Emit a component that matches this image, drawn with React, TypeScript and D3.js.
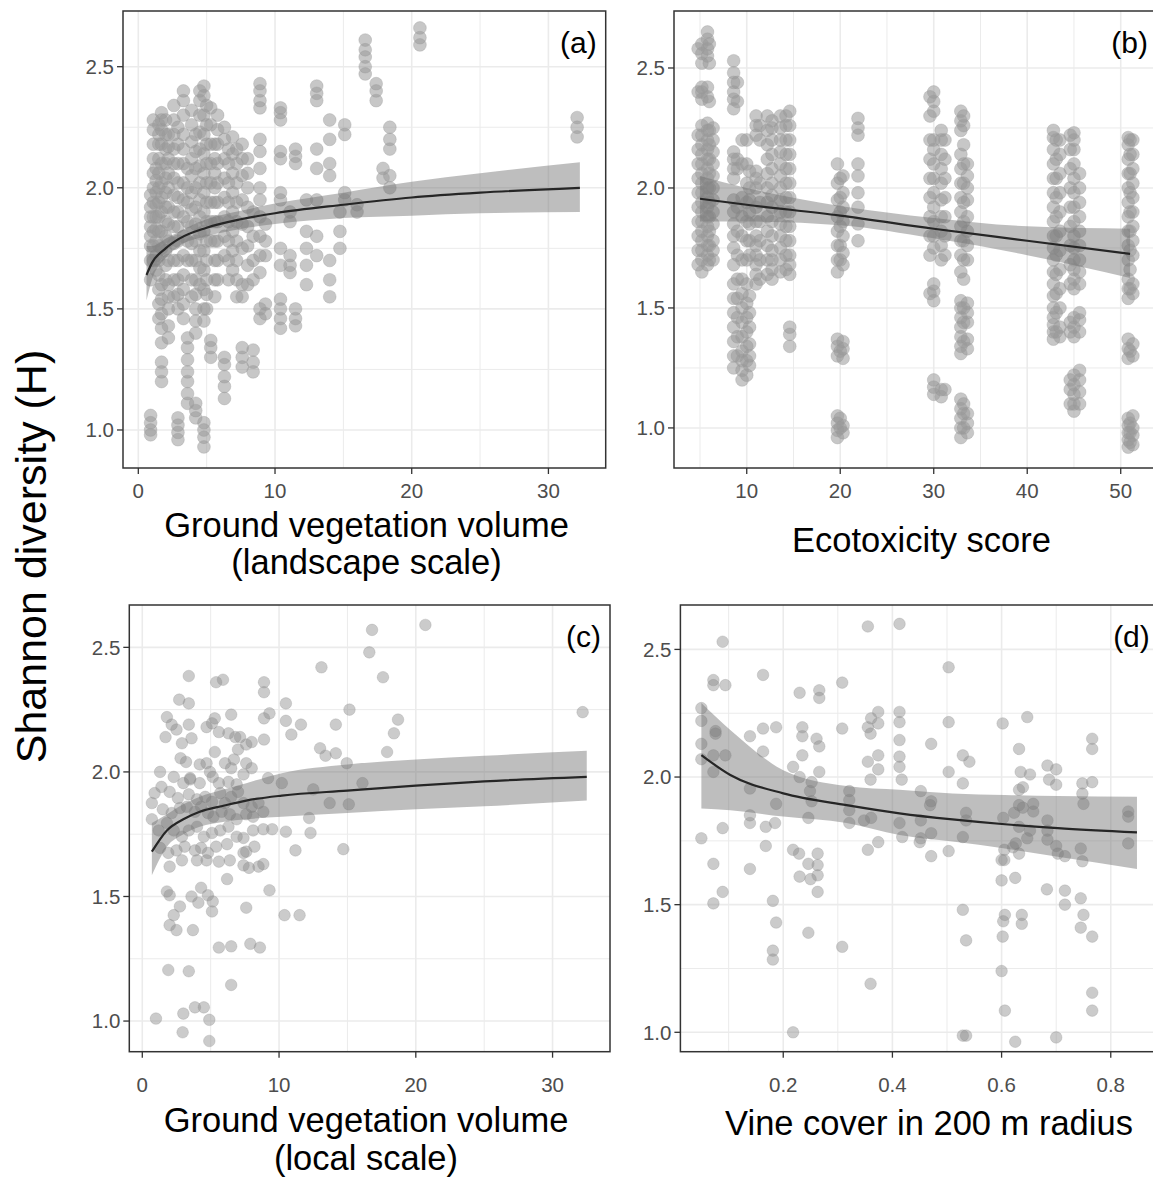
import React from "react";
import * as d3 from "d3";

// Shannon diversity vs four predictors, 2x2 ggplot-style panels

const W = 1153;
const H = 1178;
const FONT = "'Liberation Sans', Arial, sans-serif";

// ---- panel (a): ground vegetation volume, landscape scale (columns of samples per site)
const aX = [0.9, 1.1, 1.3, 1.5, 1.7, 2.0, 2.2, 2.6, 2.9, 3.3, 3.6, 3.9, 4.2, 4.5, 4.8, 5.0, 5.3, 5.6, 5.8, 6.3, 6.6, 6.9, 7.2, 7.6, 8.0, 8.4, 8.9, 9.3, 10.4, 11.1, 11.5, 12.3, 13.05, 14.0, 14.75, 15.1, 16.0, 16.6, 17.4, 17.9, 18.4, 20.6, 32.1];
const aY = [
  [0.98, 1.0, 1.03, 1.06, 1.62, 1.7, 1.76, 1.8, 1.84, 1.88, 1.92, 1.97],
  [1.7, 1.76, 1.82, 1.88, 1.94, 2.0, 2.06, 2.12, 2.18, 2.24, 2.28],
  [1.66, 1.72, 1.78, 1.83, 1.88, 1.93, 1.98, 2.03, 2.08],
  [1.46, 1.52, 1.58, 1.64, 1.7, 1.76, 1.82, 1.88, 1.94, 2.0, 2.06, 2.12, 2.18, 2.22, 2.26],
  [1.2, 1.24, 1.28, 1.36, 1.42, 1.48, 1.54, 1.6, 1.75, 1.82, 1.9, 1.96, 2.02, 2.1, 2.18, 2.24, 2.28, 2.31],
  [1.62, 1.68, 1.74, 1.8, 1.86, 1.92, 1.98, 2.04, 2.1, 2.16, 2.22, 2.28],
  [1.38, 1.43, 1.5, 1.55, 1.6, 1.7, 1.78, 1.85, 1.92, 2.0, 2.06, 2.12, 2.17, 2.22],
  [1.55, 1.62, 1.7, 1.77, 1.84, 1.9, 1.97, 2.04, 2.1, 2.16, 2.22, 2.28, 2.34],
  [0.96, 0.99, 1.02, 1.05, 1.5, 1.56, 1.62, 1.7, 1.78, 1.84, 1.9, 1.96, 2.02, 2.1, 2.18, 2.25],
  [1.46, 1.52, 1.58, 1.64, 1.72, 1.8, 1.88, 1.95, 2.02, 2.1, 2.16, 2.22, 2.3, 2.36, 2.4],
  [1.11, 1.15, 1.2, 1.24, 1.29, 1.34, 1.38, 1.7, 1.78, 1.86, 1.94, 2.0, 2.08],
  [1.55, 1.62, 1.7, 1.77, 1.84, 1.91, 1.98, 2.05, 2.12, 2.19, 2.26, 2.32],
  [1.05, 1.08, 1.11, 1.4, 1.45, 1.5, 1.56, 1.62, 1.7, 1.78, 1.85, 1.92, 2.0, 2.08, 2.15, 2.22],
  [1.6, 1.67, 1.74, 1.81, 1.88, 1.95, 2.02, 2.09, 2.16, 2.23, 2.3, 2.36, 2.4],
  [0.93, 0.97, 1.0, 1.03, 1.45, 1.5, 1.58, 1.66, 1.74, 1.82, 1.9, 1.98, 2.06, 2.14, 2.22, 2.3, 2.38, 2.42],
  [1.5, 1.56, 1.62, 1.7, 1.78, 1.86, 1.94, 2.02, 2.1, 2.18, 2.26, 2.34],
  [1.3, 1.34, 1.37, 1.78, 1.86, 1.94, 2.02, 2.1, 2.18, 2.26, 2.33],
  [1.55, 1.62, 1.7, 1.78, 1.86, 1.94, 2.0, 2.06, 2.12, 2.18],
  [1.62, 1.7, 1.78, 1.86, 1.94, 2.02, 2.1, 2.18, 2.24, 2.3],
  [1.13, 1.18, 1.22, 1.27, 1.3, 1.72, 1.8, 1.88, 1.96, 2.04, 2.12, 2.2, 2.25],
  [1.62, 1.7, 1.78, 1.86, 1.94, 2.02, 2.1, 2.16],
  [1.66, 1.74, 1.82, 1.9, 1.98, 2.06, 2.14, 2.21],
  [1.55, 1.62, 1.7, 1.78, 1.86, 1.94, 2.02, 2.1, 2.16],
  [1.26, 1.3, 1.34, 1.55, 1.6, 1.75, 1.85, 1.95, 2.05, 2.12, 2.18],
  [1.6, 1.68, 1.76, 1.84, 1.92, 2.0, 2.06, 2.12],
  [1.24, 1.28, 1.33, 1.62, 1.7, 1.8, 1.9],
  [1.46, 1.5, 1.65, 1.72, 1.8, 1.88, 1.95, 2.0, 2.08, 2.15, 2.2, 2.33, 2.36, 2.4, 2.43],
  [1.48, 1.52, 1.72, 1.78, 1.85],
  [1.42, 1.46, 1.5, 1.54, 1.68, 1.75, 1.95, 1.98, 2.12, 2.15, 2.28, 2.31, 2.33],
  [1.65, 1.68, 1.72, 1.86, 1.9],
  [1.43, 1.46, 1.5, 2.1, 2.13, 2.16],
  [1.6, 1.68, 1.75, 1.82, 1.95],
  [1.72, 1.8, 1.95, 2.08, 2.16, 2.36, 2.39, 2.42],
  [1.55, 1.62, 1.7, 2.05, 2.1, 2.2, 2.28],
  [1.75, 1.82, 1.9],
  [1.95, 1.98, 2.22, 2.26],
  [1.9, 1.93],
  [2.47, 2.5, 2.54, 2.57, 2.61],
  [2.36, 2.4, 2.43],
  [2.04, 2.08],
  [2.0, 2.05, 2.16, 2.2, 2.25],
  [2.59, 2.62, 2.66],
  [2.21, 2.25, 2.29],
];
const aFitX = [0.6, 1, 2, 3, 5, 7.5, 10, 15, 20, 25, 32.3];
const aFit = [1.64, 1.69, 1.75, 1.79, 1.835, 1.87, 1.895, 1.93, 1.96, 1.98, 2.0];
const aLo = [1.535, 1.62, 1.71, 1.76, 1.8, 1.83, 1.85, 1.875, 1.885, 1.895, 1.9];
const aHi = [1.76, 1.76, 1.79, 1.82, 1.87, 1.905, 1.935, 1.98, 2.025, 2.06, 2.105];

// ---- panel (b): ecotoxicity score
const bX = [4.8, 5.2, 5.8, 6.0, 6.4, 8.6, 9.0, 9.5, 10.0, 10.3, 11.0, 11.4, 12.2, 12.7, 13.6, 14.2, 14.6, 19.7, 20.0, 20.3, 21.9, 29.6, 30.0, 30.8, 31.2, 32.9, 33.2, 33.6, 42.8, 43.1, 43.5, 44.6, 45.0, 45.6, 50.8, 51.0, 51.3];
const bY = [
  [1.68, 1.74, 1.8, 1.86, 1.92, 1.98, 2.04, 2.1, 2.16, 2.22, 2.4, 2.58],
  [1.65, 1.7, 1.74, 1.78, 1.82, 1.86, 1.9, 1.94, 1.98, 2.02, 2.06, 2.1, 2.14, 2.18, 2.22, 2.26, 2.37, 2.4, 2.42, 2.52, 2.56, 2.6],
  [1.68, 1.72, 1.76, 1.8, 1.84, 1.88, 1.92, 1.96, 2.0, 2.04, 2.08, 2.12, 2.16, 2.2, 2.24, 2.27, 2.38, 2.42, 2.55, 2.58, 2.62, 2.65],
  [1.7, 1.76, 1.82, 1.88, 1.94, 2.0, 2.06, 2.12, 2.18, 2.24, 2.36, 2.52, 2.6],
  [1.7, 1.74, 1.78, 1.85, 1.9, 1.95, 2.0, 2.05, 2.1, 2.15, 2.2, 2.25],
  [1.25, 1.3, 1.36, 1.42, 1.48, 1.54, 1.6, 1.68, 1.75, 1.8, 1.85, 1.9, 1.95, 2.04, 2.08, 2.12, 2.15, 2.33, 2.37, 2.4, 2.44, 2.48, 2.53],
  [1.3, 1.38, 1.46, 1.54, 1.62, 1.72, 1.82, 1.92, 2.08, 2.12, 2.36, 2.44],
  [1.2, 1.24, 1.28, 1.32, 1.38, 1.44, 1.5, 1.56, 1.62, 1.7, 1.8, 1.88, 1.96, 2.1, 2.2],
  [1.22, 1.28, 1.34, 1.4, 1.46, 1.52, 1.6, 1.7, 1.78, 1.86, 1.94, 2.02, 2.1, 2.2],
  [1.26, 1.3, 1.35, 1.42, 1.48, 1.55, 1.72, 1.78, 1.85, 1.9, 1.95, 2.0, 2.07],
  [1.6, 1.64, 1.68, 1.72, 1.76, 1.8, 1.86, 1.92, 2.0, 2.04, 2.07, 2.22, 2.26, 2.3],
  [1.62, 1.7, 1.78, 1.86, 1.94, 2.02, 2.2, 2.26],
  [1.64, 1.7, 1.76, 1.82, 1.88, 1.94, 2.0, 2.06, 2.12, 2.18, 2.24, 2.3],
  [1.62, 1.66, 1.7, 1.74, 1.8, 1.86, 1.92, 1.97, 2.02, 2.08, 2.14, 2.2, 2.25, 2.28],
  [1.65, 1.7, 1.75, 1.8, 1.85, 1.9, 1.95, 2.0, 2.05, 2.1, 2.15, 2.2, 2.25, 2.3],
  [1.66, 1.72, 1.78, 1.84, 1.9, 1.96, 2.02, 2.08, 2.14, 2.2, 2.26, 2.3],
  [1.34, 1.39, 1.42, 1.64, 1.68, 1.72, 1.78, 1.84, 1.9, 1.96, 2.02, 2.08, 2.14, 2.2, 2.26, 2.32],
  [0.96, 0.99, 1.02, 1.05, 1.3, 1.34, 1.37, 1.65, 1.7, 1.76, 1.82, 1.88, 1.95, 2.02, 2.1],
  [1.0, 1.04, 1.32, 1.7, 1.76, 1.84, 1.9, 1.96, 2.04],
  [0.98, 1.01, 1.29, 1.33, 1.36, 1.68, 1.73, 1.8, 1.86, 1.92, 1.98, 2.05],
  [1.78, 1.85, 1.92, 1.98, 2.05, 2.1, 2.22, 2.25, 2.29],
  [1.56, 1.72, 1.8, 1.88, 1.96, 2.04, 2.12, 2.2, 2.3, 2.38],
  [1.14, 1.17, 1.2, 1.53, 1.57, 1.6, 1.75, 1.8, 1.86, 1.92, 1.98, 2.04, 2.1, 2.16, 2.2, 2.32, 2.36, 2.4],
  [1.13, 1.16, 1.7, 1.76, 1.82, 1.88, 1.95, 2.02, 2.08, 2.14, 2.2, 2.24],
  [1.16, 1.72, 1.8, 1.88, 1.96, 2.04, 2.12, 2.2],
  [0.96, 1.0, 1.04, 1.08, 1.12, 1.31, 1.34, 1.38, 1.42, 1.46, 1.5, 1.53, 1.65, 1.72, 1.78, 1.84, 1.9, 1.96, 2.02, 2.08, 2.14, 2.24, 2.28, 2.32],
  [1.0, 1.06, 1.1, 1.36, 1.44, 1.5, 1.62, 1.7, 1.78, 1.86, 1.94, 2.02, 2.1, 2.18, 2.26, 2.3],
  [0.98, 1.02, 1.06, 1.33, 1.37, 1.44, 1.48, 1.52, 1.7, 1.76, 1.82, 1.88, 1.95, 2.0, 2.05, 2.1],
  [1.37, 1.4, 1.43, 1.46, 1.5, 1.55, 1.6, 1.65, 1.7, 1.75, 1.8, 1.86, 1.92, 1.98, 2.04, 2.1, 2.16, 2.21, 2.24],
  [1.4, 1.48, 1.56, 1.64, 1.72, 1.8, 1.88, 1.96, 2.04, 2.12, 2.2],
  [1.38, 1.42, 1.5, 1.58, 1.66, 1.74, 1.82, 1.9, 1.98, 2.06, 2.14, 2.2],
  [1.1, 1.16, 1.2, 1.4, 1.44, 1.6, 1.68, 1.76, 1.84, 1.92, 2.0, 2.08, 2.16, 2.22],
  [1.07, 1.1, 1.14, 1.18, 1.22, 1.38, 1.42, 1.46, 1.58, 1.62, 1.66, 1.7, 1.75, 1.8, 1.86, 1.92, 1.98, 2.04, 2.1, 2.16, 2.2, 2.23],
  [1.1, 1.15, 1.2, 1.24, 1.4, 1.45, 1.48, 1.6, 1.65, 1.7, 1.76, 1.82, 1.88, 1.94, 2.0, 2.06],
  [0.92, 0.95, 0.98, 1.01, 1.04, 1.29, 1.33, 1.37, 1.54, 1.58, 1.62, 1.7, 1.76, 1.82, 1.88, 1.94, 2.0, 2.06, 2.12, 2.18, 2.21],
  [0.94, 0.98, 1.02, 1.32, 1.58, 1.66, 1.74, 1.82, 1.9, 1.98, 2.06, 2.14, 2.2],
  [0.93, 0.97, 1.0, 1.05, 1.3, 1.35, 1.56, 1.6, 1.72, 1.78, 1.84, 1.9, 1.96, 2.02, 2.08, 2.14, 2.2],
];
const bFitX = [5, 10, 20, 30, 40, 51];
const bFit = [1.955, 1.93, 1.885, 1.83, 1.78, 1.725];
const bLo = [1.86, 1.86, 1.845, 1.79, 1.72, 1.625];
const bHi = [2.05, 2.0, 1.925, 1.875, 1.84, 1.83];

// ---- panel (c): ground vegetation volume, local scale
const cX = [20.7, 16.8, 16.6, 17.6, 13.1, 32.2, 18.7, 18.4, 17.9, 15.15, 14.15, 10.5, 10.5, 10.9, 11.6, 8.9, 8.9, 8.9, 9.3, 8.9,
  3.4, 5.4, 5.9, 2.7, 3.4, 1.8, 1.7, 2.15, 2.5, 3.4, 3.6, 4.7, 5.1, 5.3, 5.6, 6.5, 6.3, 6.8, 7.15, 7.6,
  8.0, 13.0, 13.4, 14.15, 14.95, 2.9, 2.8, 3.2, 3.5, 4.2, 4.7, 4.95, 5.3, 6.05, 6.5, 6.7, 7.0, 7.6, 8.0, 1.3,
  2.3, 3.0, 3.5, 4.2, 5.15, 5.6, 6.3, 6.9, 7.4, 9.2, 10.2, 12.5, 16.1, 13.7, 15.1, 0.9, 1.4, 2.0, 2.6, 3.4,
  4.0, 4.6, 5.1, 5.7, 6.05, 6.5, 7.0, 7.4, 8.0, 8.5, 0.7, 1.5, 2.15, 2.75, 3.25, 3.85, 4.3, 4.8, 5.2, 5.8,
  6.4, 6.9, 7.6, 8.1, 8.85, 0.7, 1.2, 1.8, 2.3, 2.9, 3.4, 4.0, 4.5, 5.1, 5.7, 6.3, 6.9, 7.4, 8.1, 8.85,
  9.5, 10.5, 12.2, 12.3, 1.3, 1.9, 2.5, 3.1, 3.85, 4.3, 4.8, 5.4, 6.2, 7.4, 7.6, 8.2, 11.2, 14.7, 2.0, 2.9,
  4.0, 4.7, 5.6, 6.4, 7.4, 7.8, 8.5, 8.85, 6.2, 9.3, 1.8, 2.0, 2.75, 3.6, 4.1, 4.3, 4.8, 5.15, 7.6, 2.3,
  2.0, 2.5, 3.7, 5.1, 5.6, 6.5, 7.9, 8.6, 10.4, 11.5, 1.9, 3.4, 6.5, 1.0, 3.0, 3.85, 4.5, 4.9, 2.95, 4.9];
const cY = [2.59, 2.57, 2.48, 2.38, 2.42, 2.24, 2.21, 2.155, 2.08, 2.25, 2.19, 2.275, 2.205, 2.15, 2.19, 2.36, 2.32, 2.215, 2.235, 2.13,
  2.385, 2.36, 2.37, 2.29, 2.275, 2.22, 2.14, 2.19, 2.17, 2.19, 2.135, 2.18, 2.195, 2.215, 2.16, 2.23, 2.155, 2.14, 2.14, 2.11,
  2.12, 2.095, 2.065, 2.075, 2.035, 2.115, 2.055, 2.04, 1.97, 2.03, 2.035, 2.0, 2.08, 2.035, 2.015, 2.05, 2.09, 2.035, 2.015, 2.0,
  1.98, 1.955, 1.975, 1.955, 1.98, 1.955, 1.96, 1.95, 1.99, 1.975, 1.955, 1.93, 1.955, 1.875, 1.87, 1.915, 1.94, 1.92, 1.895, 1.91,
  1.89, 1.9, 1.88, 1.915, 1.875, 1.9, 1.92, 1.875, 1.86, 1.875, 1.875, 1.85, 1.835, 1.855, 1.86, 1.84, 1.86, 1.835, 1.82, 1.84,
  1.83, 1.81, 1.83, 1.82, 1.84, 1.81, 1.765, 1.795, 1.765, 1.74, 1.765, 1.78, 1.74, 1.755, 1.765, 1.78, 1.74, 1.735, 1.765, 1.77,
  1.77, 1.76, 1.815, 1.755, 1.695, 1.675, 1.685, 1.7, 1.685, 1.695, 1.675, 1.7, 1.71, 1.675, 1.68, 1.7, 1.685, 1.69, 1.62, 1.645,
  1.645, 1.645, 1.64, 1.645, 1.625, 1.615, 1.62, 1.63, 1.57, 1.525, 1.52, 1.505, 1.46, 1.5, 1.475, 1.535, 1.505, 1.48, 1.455, 1.425,
  1.385, 1.365, 1.365, 1.44, 1.295, 1.3, 1.31, 1.295, 1.425, 1.425, 1.205, 1.2, 1.145, 1.01, 1.03, 1.055, 1.055, 1.005, 0.955, 0.92];
const cFitX = [0.7, 1.8, 3, 4.2, 6, 7.6, 10.2, 15, 20, 25, 32.5];
const cFit = [1.68, 1.765, 1.81, 1.84, 1.865, 1.885, 1.905, 1.925, 1.945, 1.962, 1.98];
const cLo = [1.585, 1.7, 1.75, 1.78, 1.8, 1.81, 1.82, 1.835, 1.85, 1.862, 1.885];
const cHi = [1.795, 1.83, 1.87, 1.9, 1.93, 1.955, 1.995, 2.03, 2.05, 2.065, 2.085];

// ---- panel (d): vine cover in 200 m radius
const dX = [0.355, 0.413, 0.089, 0.163, 0.072, 0.072, 0.094, 0.23, 0.266, 0.266, 0.308, 0.503, 0.05, 0.05, 0.076, 0.076, 0.139, 0.163, 0.187, 0.235,
  0.235, 0.261, 0.266, 0.308, 0.355, 0.361, 0.374, 0.374, 0.36, 0.413, 0.413, 0.413, 0.503, 0.471, 0.602, 0.647, 0.632, 0.766, 0.766, 0.05,
  0.05, 0.072, 0.072, 0.094, 0.163, 0.218, 0.23, 0.235, 0.252, 0.266, 0.355, 0.374, 0.374, 0.413, 0.413, 0.417, 0.529, 0.541, 0.503, 0.529,
  0.635, 0.652, 0.684, 0.7, 0.7, 0.687, 0.748, 0.766, 0.632, 0.639, 0.748, 0.75, 0.139, 0.187, 0.249, 0.252, 0.321, 0.321, 0.36, 0.452,
  0.471, 0.469, 0.632, 0.639, 0.658, 0.658, 0.684, 0.832, 0.832, 0.832, 0.246, 0.321, 0.321, 0.361, 0.348, 0.413, 0.418, 0.452, 0.452, 0.471,
  0.535, 0.535, 0.603, 0.623, 0.632, 0.652, 0.647, 0.626, 0.632, 0.684, 0.684, 0.7, 0.716, 0.703, 0.745, 0.748, 0.605, 0.605, 0.05, 0.089,
  0.139, 0.139, 0.168, 0.185, 0.168, 0.072, 0.139, 0.218, 0.229, 0.246, 0.263, 0.263, 0.263, 0.263, 0.23, 0.25, 0.355, 0.374, 0.45, 0.503,
  0.471, 0.529, 0.621, 0.6, 0.6, 0.625, 0.089, 0.072, 0.181, 0.187, 0.181, 0.181, 0.246, 0.308, 0.529, 0.535, 0.603, 0.606, 0.602, 0.637,
  0.637, 0.683, 0.716, 0.716, 0.745, 0.75, 0.745, 0.766, 0.6, 0.606, 0.36, 0.218, 0.529, 0.535, 0.625, 0.7, 0.766, 0.766];
const dY = [2.59, 2.6, 2.53, 2.4, 2.38, 2.36, 2.36, 2.33, 2.34, 2.31, 2.37, 2.43, 2.27, 2.22, 2.18, 2.17, 2.16, 2.19, 2.195, 2.195,
  2.16, 2.15, 2.12, 2.19, 2.195, 2.23, 2.255, 2.21, 2.17, 2.255, 2.215, 2.145, 2.215, 2.13, 2.21, 2.235, 2.11, 2.15, 2.11, 2.13,
  2.07, 2.085, 2.02, 2.085, 2.1, 2.04, 2.0, 2.085, 1.98, 2.02, 2.06, 2.03, 2.085, 2.08, 2.04, 1.99, 2.085, 2.06, 2.02, 1.975,
  2.02, 2.01, 2.045, 2.03, 1.97, 1.99, 1.975, 1.98, 1.95, 1.96, 1.935, 1.895, 1.955, 1.895, 1.945, 1.905, 1.945, 1.91, 1.99, 1.945,
  1.905, 1.89, 1.89, 1.88, 1.895, 1.865, 1.83, 1.865, 1.845, 1.74, 1.84, 1.87, 1.82, 1.84, 1.83, 1.82, 1.765, 1.83, 1.76, 1.78,
  1.86, 1.83, 1.84, 1.86, 1.805, 1.79, 1.76, 1.74, 1.7, 1.79, 1.755, 1.73, 1.69, 1.7, 1.72, 1.67, 1.715, 1.675, 1.76, 1.8,
  1.82, 1.85, 1.805, 1.82, 1.73, 1.66, 1.64, 1.715, 1.7, 1.66, 1.7, 1.655, 1.615, 1.55, 1.61, 1.6, 1.715, 1.745, 1.745, 1.71,
  1.69, 1.765, 1.725, 1.675, 1.595, 1.605, 1.55, 1.505, 1.515, 1.43, 1.32, 1.285, 1.39, 1.335, 1.48, 1.36, 1.435, 1.46, 1.375, 1.46,
  1.425, 1.56, 1.555, 1.5, 1.525, 1.46, 1.41, 1.375, 1.24, 1.085, 1.19, 1.0, 0.987, 0.987, 0.963, 0.98, 1.155, 1.085];
const dFitX = [0.05, 0.103, 0.2, 0.316, 0.413, 0.51, 0.606, 0.703, 0.848];
const dFit = [2.086, 2.008, 1.936, 1.89, 1.858, 1.834, 1.815, 1.8, 1.783];
const dLo = [1.877, 1.87, 1.845, 1.82, 1.773, 1.747, 1.72, 1.688, 1.64];
const dHi = [2.29, 2.184, 2.027, 1.965, 1.95, 1.936, 1.93, 1.926, 1.923];

const yMajor = [1.0, 1.5, 2.0, 2.5];
const yMinor = [1.25, 1.75, 2.25];

type PanelProps = {
  id: string;
  box: { l: number; t: number; r: number; b: number };
  xDom: [number, number];
  yDom: [number, number];
  xMajor: number[];
  xMinor: number[];
  xFmt: (v: number) => string;
  pts: [number, number][];
  fitX: number[];
  fit: number[];
  lo: number[];
  hi: number[];
  tag: string;
  ptFill: string;
  ptOpacity: number;
  ptR: number;
  titles: { text: string; x: number; y: number }[];
  tickBaseX?: number;
};

function Panel(p: PanelProps) {
  const { box } = p;
  const x = d3.scaleLinear().domain(p.xDom).range([box.l, box.r]);
  const y = d3.scaleLinear().domain(p.yDom).range([box.b, box.t]);
  const area = d3
    .area<number>()
    .x((_, i) => x(p.fitX[i]))
    .y0((_, i) => y(p.lo[i]))
    .y1((_, i) => y(p.hi[i]))
    .curve(d3.curveMonotoneX);
  const line = d3
    .line<number>()
    .x((_, i) => x(p.fitX[i]))
    .y((d) => y(d))
    .curve(d3.curveMonotoneX);
  const grid = "#ebebeb";
  const axisCol = "#333333";
  const tickCol = "#4d4d4d";
  return (
    <g>
      <defs>
        <clipPath id={"clip-" + p.id}>
          <rect x={box.l} y={box.t} width={box.r - box.l} height={box.b - box.t} />
        </clipPath>
      </defs>
      <rect x={box.l} y={box.t} width={box.r - box.l} height={box.b - box.t} fill="white" />
      <g clipPath={`url(#clip-${p.id})`}>
        {p.xMinor.map((v) => (
          <line key={"xm" + v} x1={x(v)} x2={x(v)} y1={box.t} y2={box.b} stroke={grid} strokeWidth={1} />
        ))}
        {yMinor.map((v) => (
          <line key={"ym" + v} x1={box.l} x2={box.r} y1={y(v)} y2={y(v)} stroke={grid} strokeWidth={1} />
        ))}
        {p.xMajor.map((v) => (
          <line key={"xM" + v} x1={x(v)} x2={x(v)} y1={box.t} y2={box.b} stroke={grid} strokeWidth={1.6} />
        ))}
        {yMajor.map((v) => (
          <line key={"yM" + v} x1={box.l} x2={box.r} y1={y(v)} y2={y(v)} stroke={grid} strokeWidth={1.6} />
        ))}
        {p.pts.map(([px, py], i) => (
          <circle
            key={i}
            cx={x(px)}
            cy={y(py)}
            r={p.ptR}
            fill={p.ptFill}
            fillOpacity={p.ptOpacity}
            stroke={p.ptFill}
            strokeOpacity={p.ptOpacity * 0.6}
            strokeWidth={1}
          />
        ))}
        <path d={area(p.fit) || ""} fill="#6e6e6e" fillOpacity={0.45} />
        <path d={line(p.fit) || ""} fill="none" stroke="#262626" strokeWidth={2.2} />
      </g>
      <rect
        x={box.l}
        y={box.t}
        width={box.r - box.l}
        height={box.b - box.t}
        fill="none"
        stroke={axisCol}
        strokeWidth={1.5}
      />
      {yMajor.map((v) => (
        <g key={"yt" + v}>
          <line x1={box.l - 6} x2={box.l} y1={y(v)} y2={y(v)} stroke={axisCol} strokeWidth={1.3} />
          <text
            x={box.l - 9}
            y={y(v)}
            dy="0.36em"
            textAnchor="end"
            fontFamily={FONT}
            fontSize={20.5}
            fill={tickCol}
          >
            {d3.format(".1f")(v)}
          </text>
        </g>
      ))}
      {p.xMajor
        .filter((v) => x(v) <= W)
        .map((v) => (
          <g key={"xt" + v}>
            <line x1={x(v)} x2={x(v)} y1={box.b} y2={box.b + 6} stroke={axisCol} strokeWidth={1.3} />
            <text
              x={x(v)}
              y={p.tickBaseX ?? box.b + 30}
              textAnchor="middle"
              fontFamily={FONT}
              fontSize={20.5}
              fill={tickCol}
            >
              {p.xFmt(v)}
            </text>
          </g>
        ))}
      <text x={box.r - 9} y={box.t + 42} textAnchor="end" fontFamily={FONT} fontSize={30} fill="#000">
        {p.tag}
      </text>
      {p.titles.map((t) => (
        <text key={t.text} x={t.x} y={t.y} textAnchor="middle" fontFamily={FONT} fontSize={34.5} fill="#000">
          {t.text}
        </text>
      ))}
    </g>
  );
}

const flatCols = (xs: number[], ys: number[][]): [number, number][] =>
  xs.flatMap((xv, i) => ys[i].map((yv) => [xv, yv] as [number, number]));
const zipPts = (xs: number[], ys: number[]): [number, number][] =>
  xs.map((xv, i) => [xv, ys[i]] as [number, number]);

export default function App() {
  const intFmt = d3.format("d");
  const decFmt = d3.format(".1f");
  return (
    <svg
      width={W}
      height={H}
      viewBox={`0 0 ${W} ${H}`}
      style={{ position: "absolute", left: 0, top: 0, background: "white", overflow: "hidden" }}
    >
      <rect width={W} height={H} fill="white" />
      <Panel
        id="a"
        box={{ l: 123, t: 11, r: 605.7, b: 468 }}
        xDom={[-1.12, 34.19]}
        yDom={[0.843, 2.73]}
        xMajor={[0, 10, 20, 30]}
        xMinor={[5, 15, 25]}
        xFmt={intFmt}
        pts={flatCols(aX, aY)}
        fitX={aFitX}
        fit={aFit}
        lo={aLo}
        hi={aHi}
        tag="(a)"
        ptFill="#999999"
        ptOpacity={0.55}
        ptR={6.4}
        titles={[
          { text: "Ground vegetation volume", x: 366.5, y: 537 },
          { text: "(landscape scale)", x: 366.5, y: 574 },
        ]}
      />
      <Panel
        id="b"
        box={{ l: 674, t: 11, r: 1157, b: 468 }}
        xDom={[2.22, 53.88]}
        yDom={[0.833, 2.7375]}
        xMajor={[10, 20, 30, 40, 50]}
        xMinor={[5, 15, 25, 35, 45]}
        xFmt={intFmt}
        pts={flatCols(bX, bY)}
        fitX={bFitX}
        fit={bFit}
        lo={bLo}
        hi={bHi}
        tag="(b)"
        ptFill="#999999"
        ptOpacity={0.55}
        ptR={6.4}
        titles={[{ text: "Ecotoxicity score", x: 921.5, y: 552 }]}
      />
      <Panel
        id="c"
        box={{ l: 129.3, t: 605, r: 610, b: 1051.7 }}
        xDom={[-0.95, 34.2]}
        yDom={[0.877, 2.67]}
        xMajor={[0, 10, 20, 30]}
        xMinor={[5, 15, 25]}
        xFmt={intFmt}
        pts={zipPts(cX, cY)}
        fitX={cFitX}
        fit={cFit}
        lo={cLo}
        hi={cHi}
        tag="(c)"
        ptFill="#8c8c8c"
        ptOpacity={0.45}
        ptR={5.8}
        tickBaseX={1092}
        titles={[
          { text: "Ground vegetation volume", x: 366, y: 1132 },
          { text: "(local scale)", x: 366, y: 1170 },
        ]}
      />
      <Panel
        id="d"
        box={{ l: 680.4, t: 605, r: 1158.8, b: 1051.7 }}
        xDom={[0.0116, 0.888]}
        yDom={[0.924, 2.674]}
        xMajor={[0.2, 0.4, 0.6, 0.8]}
        xMinor={[0.1, 0.3, 0.5, 0.7]}
        xFmt={decFmt}
        pts={zipPts(dX, dY)}
        fitX={dFitX}
        fit={dFit}
        lo={dLo}
        hi={dHi}
        tag="(d)"
        ptFill="#8c8c8c"
        ptOpacity={0.45}
        ptR={5.8}
        tickBaseX={1092}
        titles={[{ text: "Vine cover in 200 m radius", x: 929, y: 1135 }]}
      />
      <text
        transform="translate(46,556.5) rotate(-90)"
        textAnchor="middle"
        fontFamily={FONT}
        fontSize={43}
        fill="#000"
      >
        Shannon diversity (H)
      </text>
    </svg>
  );
}
